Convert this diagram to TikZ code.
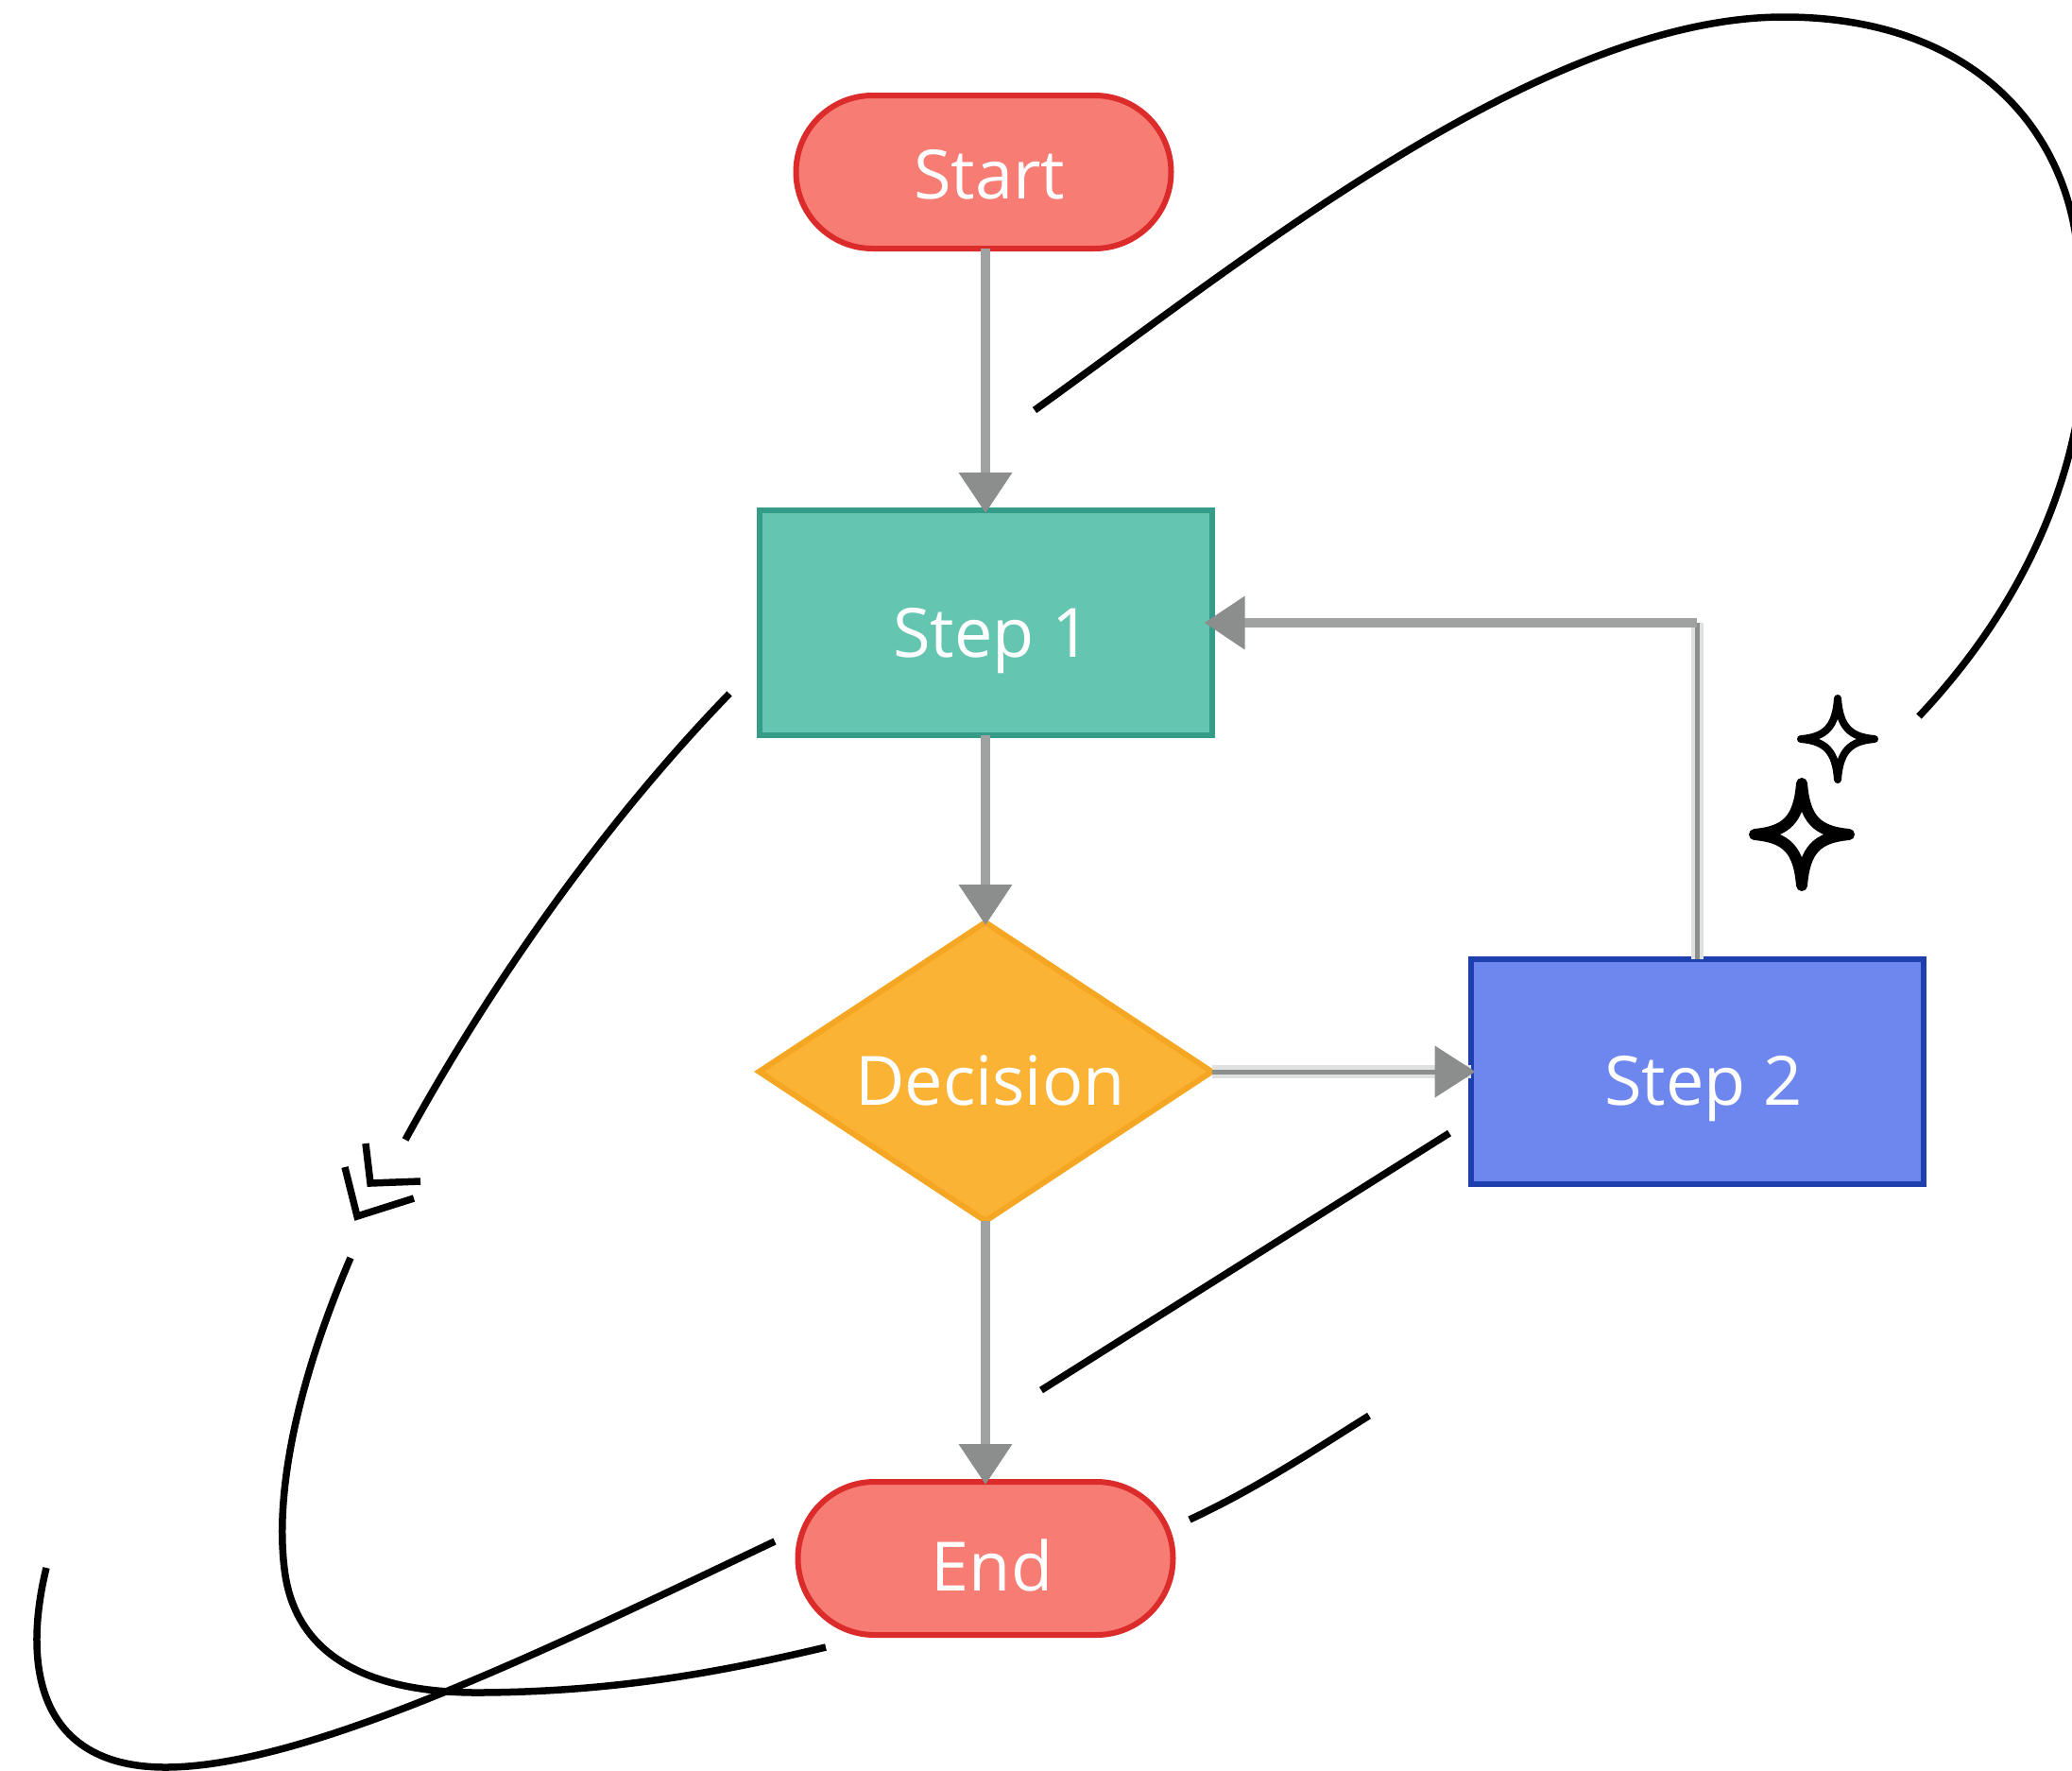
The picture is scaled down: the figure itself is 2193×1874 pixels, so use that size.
\documentclass[tikz,border=0pt]{standalone}
\usepackage{fontspec}
\setmainfont{Open Sans}
\usetikzlibrary{arrows.meta,shapes.geometric,shapes.misc}
\definecolor{redfill}{HTML}{F67C74}
\definecolor{redline}{HTML}{DC2B2B}
\definecolor{tealfill}{HTML}{64C5B0}
\definecolor{tealline}{HTML}{349C88}
\definecolor{orangefill}{HTML}{FBB335}
\definecolor{orangeline}{HTML}{F5A623}
\definecolor{bluefill}{HTML}{6E87EE}
\definecolor{blueline}{HTML}{1E40AF}
\definecolor{conn}{HTML}{A0A2A2}
\definecolor{tipgrey}{HTML}{8C8E8E}
\definecolor{halo}{HTML}{DFE1E1}
\newcommand{\lbl}[3]{\hspace*{#1pt}\raisebox{#2pt}[0pt][0pt]{#3}}
\tikzset{
  flow/.style={outer sep=0pt,inner sep=0pt,text=white,font=\fontsize{72}{86}\selectfont,line width=6pt},
  term/.style={flow,rounded rectangle,draw=redline,fill=redfill,minimum width=397pt,minimum height=162pt},
  proc/.style={flow,rectangle,draw=tealline,fill=tealfill,minimum width=479pt,minimum height=238pt},
  proctwo/.style={flow,rectangle,draw=blueline,fill=bluefill,minimum width=479pt,minimum height=238pt},
  deci/.style={flow,diamond,aspect=1.516,draw=orangeline,fill=orangefill,minimum width=479pt,minimum height=316pt},
  conna/.style={draw=conn,line width=10pt,shorten >=-3pt,-{Triangle[length=43pt,width=54pt,color=tipgrey]}},
  connhalo/.style={draw=halo,line width=14pt},
  conncore/.style={draw=tipgrey,line width=5pt},
  stroke/.style={line width=7.5pt,black,line cap=butt},
  sparkle/.style={line width=#1,black,line join=round}
}
\begin{document}
\begin{tikzpicture}[x=1pt,y=-1pt]
\useasboundingbox (0,0) rectangle (2193,1874);
\clip (0,0) rectangle (2193,1874);
\fill[white] (0,0) rectangle (2193,1874);
\node[term] (start) at (1041,182) {\lbl{12}{-28}{Start}};
\node[proc] (step1) at (1043,659) {\lbl{14}{-36}{Step 1}};
\node[deci] (dec) at (1043,1134) {\lbl{10}{-35}{Decision}};
\node[proctwo] (step2) at (1796,1134) {\lbl{14}{-35}{Step 2}};
\node[term] (end) at (1043,1649) {\lbl{14}{-34}{End}};
\coordinate (bend) at (step2.north |- step1.east);
\draw[conna] (step1.north |- start.south) -- (step1.north);
\draw[conna] (step1.south) -- (dec.north);
\draw[conna] (dec.south) -- (end.north);
\draw[connhalo] (dec.east) -- (step2.west);
\draw[conncore,shorten >=-5pt,-{Triangle[length=43pt,width=54pt,color=tipgrey]}] (dec.east) -- (step2.west);
\draw[connhalo,line width=13pt] (step2.north) -- (bend);
\draw[conncore] (step2.north) -- (bend);
\draw[conna,shorten >=-8pt] (bend) -- (step1.east);
% sketch strokes
\draw[stroke] (1095,434) .. controls (1310,280) and (1630,18) .. (1888,18) .. controls (2090,18) and (2193,140) .. (2200,280) .. controls (2225,420) and (2180,600) .. (2031,758);
\draw[stroke] (772,734) .. controls (640,870) and (520,1040) .. (429,1206);
\draw[stroke] (387,1210) -- (392,1252) -- (445,1250);
\draw[stroke] (365,1235) -- (378,1287) -- (438,1268);
\draw[stroke] (371,1331) .. controls (320,1450) and (290,1570) .. (301,1660) .. controls (312,1755) and (395,1792) .. (510,1791) .. controls (650,1790) and (760,1770) .. (874,1743);
\draw[stroke] (49,1659) .. controls (22,1770) and (45,1870) .. (175,1870) .. controls (325,1870) and (580,1745) .. (820,1631);
\draw[stroke] (1534,1199) -- (1102,1471);
\draw[stroke] (1449,1498) .. controls (1390,1535) and (1330,1575) .. (1259,1608);
% sparkles
\draw[sparkle=12pt] (1907,829) .. controls (1910,867) and (1923,880) .. (1957,883) .. controls (1923,886) and (1910,899) .. (1907,937) .. controls (1904,899) and (1891,886) .. (1857,883) .. controls (1891,880) and (1904,867) .. (1907,829) -- cycle;
\draw[sparkle=8pt] (1945,739) .. controls (1947,769) and (1958,780) .. (1984,782) .. controls (1958,784) and (1947,795) .. (1945,825) .. controls (1943,795) and (1932,784) .. (1906,782) .. controls (1932,780) and (1943,769) .. (1945,739) -- cycle;
\end{tikzpicture}
\end{document}
